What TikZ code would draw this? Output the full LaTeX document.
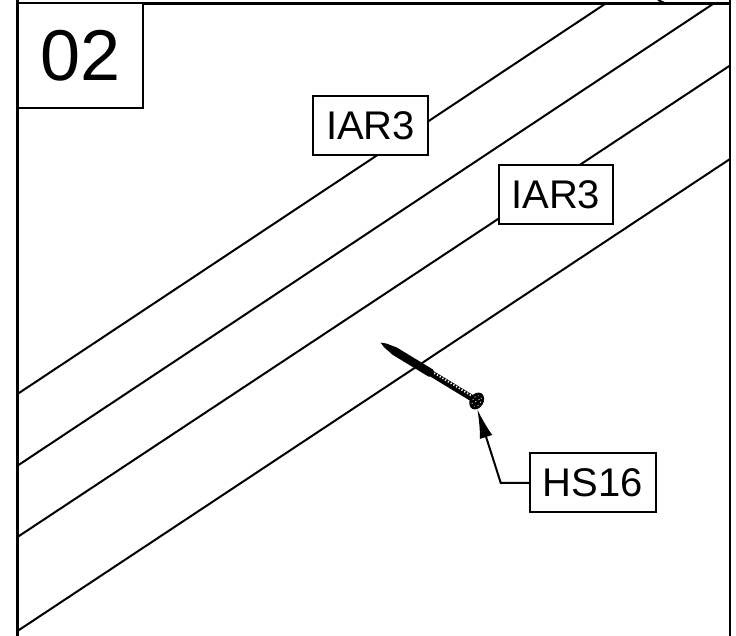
\documentclass[tikz,border=0pt]{standalone}
\usepackage{fontspec}
\setmainfont{Liberation Sans}
\usetikzlibrary{arrows.meta}
\tikzset{
  tagbox/.style={draw, fill=white, line width=2pt, inner sep=0pt, minimum height=59pt, font=\fontsize{40}{40}\selectfont},
  panel/.style={line width=2.8pt},
  board/.style={line width=2pt}
}

\begin{document}
\begin{tikzpicture}[x=1pt, y=1pt]
        \useasboundingbox (0, 0) rectangle (736, -636);

        % panel frame
        \draw[panel] (17.5, 0) -- (17.5, -636);
        \draw[panel] (730, 0) -- (730, -636);
        \draw[panel] (17.5, -3.3) -- (730, -3.3);
        \draw[board] (658, 0) -- (665, -3.3);

        % board edges
        \draw[board] (17.5, -394) -- (606, -3.3);
        \draw[board] (17.5, -465.7) -- (714, -3.3);
        \draw[board] (17.5, -537) -- (730, -65.5);
        \draw[board] (17.5, -631) -- (730, -159);

        % screw
        \begin{scope}[shift={(476.7, -401)}, rotate=148.7]
          \fill (0, -3.2) -- (52, -3.2) -- (54, -4.2) -- (96, -4.2) -- (107, -2.2) -- (112.5, 0) -- (107, 2.2) -- (96, 4.2) -- (54, 4.2) -- (52, 3.2) -- (0, 3.2) -- cycle;
          \draw[white, line width=1.8pt, dash pattern=on 1.2pt off 2pt] (8, -1.8) -- (52, -1.8);
          \fill (0, 0) ellipse (6.8 and 9);
          \draw[white, line width=0.7pt, dash pattern=on 1pt off 3pt] (0, 0) ellipse (4 and 6);
          \draw[white, line width=0.7pt, dash pattern=on 1pt off 3pt] (-1.5, -3) -- (1.5, 3);
        \end{scope}

        \node[tagbox, minimum width=125.8pt, minimum height=104.7pt, font=\fontsize{72}{72}\selectfont] (step) at (80.4, -55.65) {02};
        \node[tagbox, minimum width=114.4pt] (iara) at (370.5, -125.5) {IAR3};
        \node[tagbox, minimum width=114pt] (iarb) at (555.7, -194.8) {IAR3};
        \node[tagbox, minimum width=125.7pt] (hs) at (592.8, -482.8) {HS16};

        \coordinate (tip) at (477.3, -409.3);
        \coordinate (bend) at (500.7, -482.8);
        \draw[board, -{Latex[length=29pt, width=13pt]}] (hs.west) -- (bend) -- (tip);
      \end{tikzpicture}
\end{document}
